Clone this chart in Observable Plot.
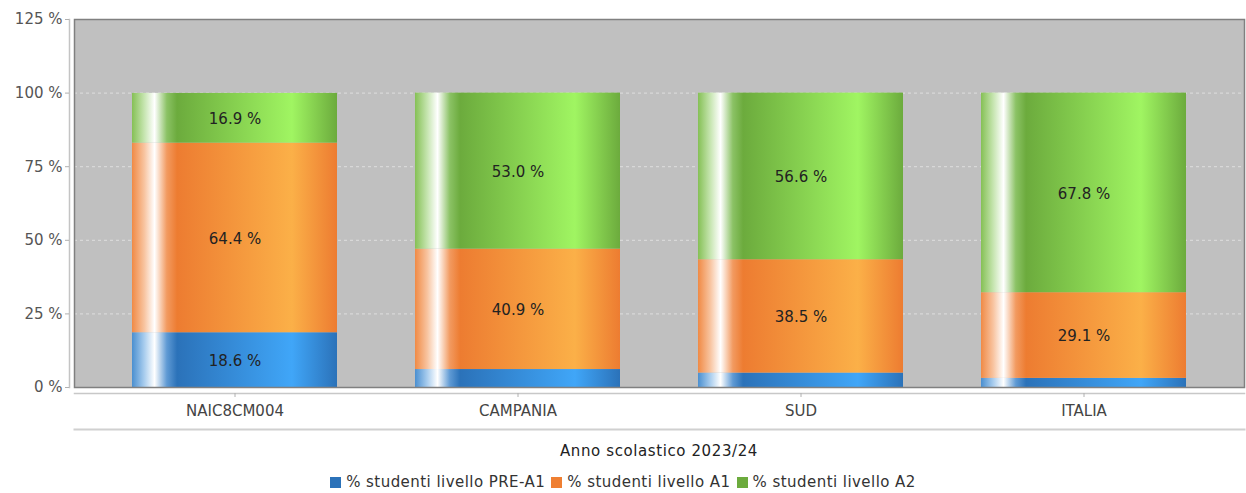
<!DOCTYPE html>
<html>
<head>
<meta charset="utf-8">
<script src="https://cdn.jsdelivr.net/npm/d3@7"></script>
<script src="https://cdn.jsdelivr.net/npm/@observablehq/plot@0.6"></script>
<style>
  body { margin: 0; background: #fff; font-family: "DejaVu Sans", sans-serif; }
  #chart svg { display: block; }
  #title { position: absolute; left: 74px; width: 1170px; top: 442px; text-align: center; font-size: 15px; letter-spacing: 0.6px; color: #222; }
  #legend { position: absolute; left: 0; width: 1246px; top: 473px; text-align: center; font-size: 15px; letter-spacing: 0.45px; color: #333; }
  .sw { display: inline-block; width: 11px; height: 11px; margin-right: 5px; vertical-align: -1px; }
  .item { margin: 0 3px; }
</style>
</head>
<body>
<div id="chart"></div>
<div id="title"></div>
<div id="legend"></div>
<script>
const categories = ["NAIC8CM004", "CAMPANIA", "SUD", "ITALIA"];
const seriesNames = ["% studenti livello PRE-A1", "% studenti livello A1", "% studenti livello A2"];
const preA1 = [18.6, 6.1, 4.9, 3.1];
const a1 = [64.4, 40.9, 38.5, 29.1];
const a2 = [16.9, 53.0, 56.6, 67.8];
const yTicks = [0, 25, 50, 75, 100, 125];
const gridTicks = [25, 50, 75, 100];
const xTitle = "Anno scolastico 2023/24";
const swatchColors = ["#2b72b9", "#ef7f32", "#6cab3d"];

const seriesValues = [preA1, a1, a2];
const data = [];
categories.forEach((c, i) => {
  seriesNames.forEach((s, j) => {
    data.push({cat: c, series: s, value: seriesValues[j][i]});
  });
});

const chart = Plot.plot({
  width: 1246,
  height: 437,
  marginLeft: 74,
  marginRight: 2,
  marginTop: 19,
  marginBottom: 50,
  style: {fontFamily: "DejaVu Sans, sans-serif", fontSize: "15px", background: "#fff"},
  x: {domain: categories, paddingInner: 0.276, paddingOuter: 0.205, label: null},
  y: {domain: [0, 125], label: null},
  color: {domain: seriesNames, range: ["url(#gBlue)", "url(#gOrange)", "url(#gGreen)"]},
  marks: [
    Plot.frame({fill: "#c0c0c0", stroke: null}),
    Plot.gridY(gridTicks, {stroke: "#dedede", strokeOpacity: 1, strokeDasharray: "3,3"}),
    Plot.barY(data, Plot.stackY({x: "cat", y: "value", fill: "series", order: seriesNames})),
    Plot.text(data, Plot.stackY({
      x: "cat", y: "value", z: "series", order: seriesNames,
      text: d => d.value < 10 ? "" : d.value.toFixed(1) + " %",
      fill: "#222", fontSize: 15, letterSpacing: 0.7, dy: 1
    })),
    Plot.frame({stroke: "#808080", strokeWidth: 1.5}),
    Plot.frame({anchor: "left", dx: -5, stroke: "#c4c4c4", strokeWidth: 1.5}),
    Plot.frame({anchor: "bottom", dy: 6, stroke: "#c8c8c8", strokeWidth: 1.5}),
    Plot.frame({anchor: "bottom", dy: 42, stroke: "#d0d0d0", strokeWidth: 2}),
    Plot.axisY(yTicks, {
      tickFormat: d => d + " %", tickSize: 4, dx: -5, tickPadding: 3,
      stroke: "#b0b0b0", color: "#555", fontSize: 15, letterSpacing: 0.5
    }),
    Plot.axisX({
      tickSize: 4, dy: 6, tickPadding: 8, stroke: "#b0b0b0",
      color: "#444", fontSize: 15, letterSpacing: 0.7, label: null
    })
  ]
});

chart.insertAdjacentHTML("afterbegin", `
<defs>
  <linearGradient id="gBlue" x1="0" x2="1" y1="0" y2="0">
    <stop offset="0" stop-color="#4a8fd0"/>
    <stop offset="0.06" stop-color="#a9cdee"/>
    <stop offset="0.11" stop-color="#ffffff"/>
    <stop offset="0.17" stop-color="#5f9ad4"/>
    <stop offset="0.22" stop-color="#2b72b9"/>
    <stop offset="0.78" stop-color="#40a6f8"/>
    <stop offset="1" stop-color="#2b72b9"/>
  </linearGradient>
  <linearGradient id="gOrange" x1="0" x2="1" y1="0" y2="0">
    <stop offset="0" stop-color="#f08a45"/>
    <stop offset="0.06" stop-color="#f8c4a0"/>
    <stop offset="0.11" stop-color="#ffffff"/>
    <stop offset="0.17" stop-color="#f29a60"/>
    <stop offset="0.22" stop-color="#ed7c31"/>
    <stop offset="0.78" stop-color="#fbb048"/>
    <stop offset="1" stop-color="#ed7c31"/>
  </linearGradient>
  <linearGradient id="gGreen" x1="0" x2="1" y1="0" y2="0">
    <stop offset="0" stop-color="#85c055"/>
    <stop offset="0.06" stop-color="#c6e5b0"/>
    <stop offset="0.11" stop-color="#ffffff"/>
    <stop offset="0.17" stop-color="#8bc265"/>
    <stop offset="0.22" stop-color="#6cab3d"/>
    <stop offset="0.78" stop-color="#a0f562"/>
    <stop offset="1" stop-color="#6cab3d"/>
  </linearGradient>
</defs>`);

document.getElementById("chart").appendChild(chart);
document.getElementById("title").textContent = xTitle;
const legend = document.getElementById("legend");
seriesNames.forEach((s, i) => {
  const span = document.createElement("span");
  span.className = "item";
  const sw = document.createElement("span");
  sw.className = "sw";
  sw.style.background = swatchColors[i];
  span.appendChild(sw);
  span.appendChild(document.createTextNode(s));
  legend.appendChild(span);
});
</script>
</body>
</html>
